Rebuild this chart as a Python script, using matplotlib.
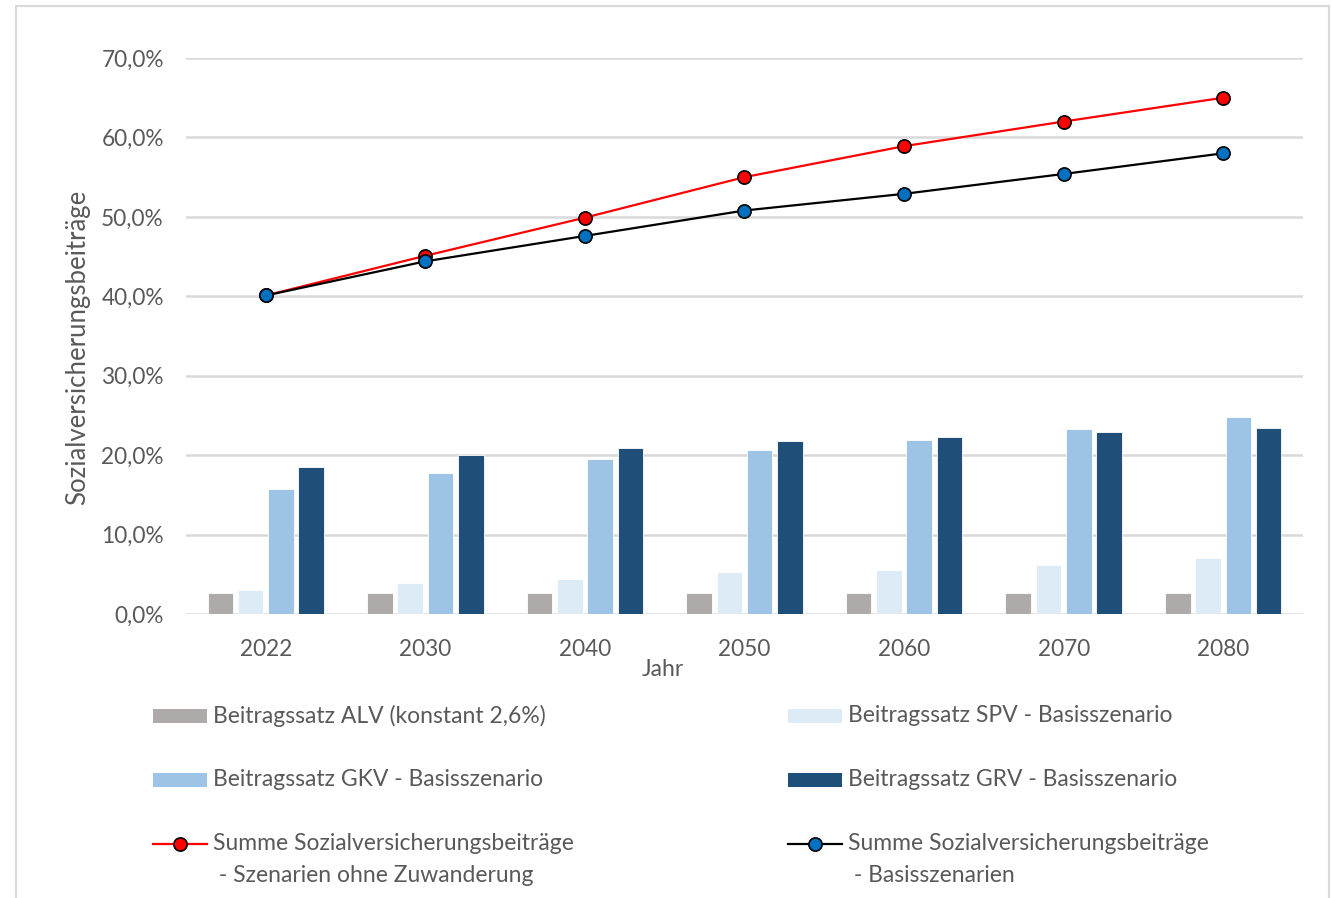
import matplotlib
matplotlib.use("Agg")
import matplotlib.pyplot as plt
import numpy as np
from matplotlib.lines import Line2D
from matplotlib.patches import Rectangle
from matplotlib.ticker import FuncFormatter, MultipleLocator

plt.rcParams['font.family'] = ['Lato', 'DejaVu Sans']

years = ["2022", "2030", "2040", "2050", "2060", "2070", "2080"]
alv = [2.6, 2.6, 2.6, 2.6, 2.6, 2.6, 2.6]
spv = [3.0, 3.9, 4.4, 5.3, 5.6, 6.2, 7.05]
gkv = [15.8, 17.75, 19.5, 20.7, 21.95, 23.3, 24.8]
grv = [18.5, 20.0, 20.9, 21.8, 22.3, 22.9, 23.4]
sum_ohne = [40.1, 45.1, 49.9, 55.0, 58.9, 62.0, 65.0]
sum_basis = [40.1, 44.4, 47.6, 50.8, 52.9, 55.4, 58.0]

labels = [
    "Beitragssatz ALV (konstant 2,6%)",
    "Beitragssatz SPV - Basisszenario",
    "Beitragssatz GKV - Basisszenario",
    "Beitragssatz GRV - Basisszenario",
    "Summe Sozialversicherungsbeiträge\n - Szenarien ohne Zuwanderung",
    "Summe Sozialversicherungsbeiträge\n - Basisszenarien",
]
bar_colors = ["#AEAAAA", "#DDEBF7", "#9DC3E6", "#1F4E79"]
text_color = "#595959"
grid_color = "#D9D9D9"

W, H = 1332, 898
fig = plt.figure(figsize=(W / 100, H / 100), dpi=100)
ax = fig.add_axes([186 / W, 1 - 614 / H, (1303 - 186) / W, (614 - 58) / H])

x = np.arange(len(years))
step = 0.19
bw = 0.16
for i, (vals, c) in enumerate(zip([alv, spv, gkv, grv], bar_colors)):
    ax.bar(x + (i - 1.5) * step, vals, width=bw, color=c, edgecolor="white",
           linewidth=0.6, zorder=2)

ax.plot(x, sum_ohne, color="#FF0000", lw=1.6, marker="o", ms=9.5,
        mfc="#FF0000", mec="black", mew=1.2, zorder=4)
ax.plot(x, sum_basis, color="black", lw=1.6, marker="o", ms=9.5,
        mfc="#0070C0", mec="black", mew=1.2, zorder=5)

ax.set_xlim(-0.5, len(years) - 0.5)
ax.set_ylim(0, 70)
ax.yaxis.set_major_locator(MultipleLocator(10))
ax.yaxis.set_major_formatter(FuncFormatter(lambda v, p: f"{v:.1f}%".replace(".", ",")))
ax.set_xticks(x)
ax.set_xticklabels(years)
ax.grid(axis="y", color=grid_color, lw=1.8, zorder=0)
ax.set_axisbelow(True)
for s in ax.spines.values():
    s.set_visible(False)
ax.tick_params(axis="both", length=0, labelsize=16.3, labelcolor=text_color)
ax.tick_params(axis="y", pad=16)
ax.tick_params(axis="x", pad=18)

fig.text(78 / W, 1 - 347 / H, "Sozialversicherungsbeiträge", rotation=90,
         ha="center", va="center", fontsize=18.5, color=text_color)
fig.text(663 / W, 1 - 670 / H, "Jahr", ha="center", va="center",
         fontsize=16.5, color=text_color)

# legend (manual, figure coordinates)
def fx(px):
    return px / W

def fy(py):
    return 1 - py / H

cols = [153, 788]
rows = [716, 780, 844]
entries = [(0, 0), (1, 0), (0, 1), (1, 1), (0, 2), (1, 2)]
for k, (ci, ri) in enumerate(entries):
    hx = cols[ci]
    yy = rows[ri]
    if k < 4:
        fig.patches.append(Rectangle((fx(hx), fy(yy + 7)), fx(54), 14 / H,
                                     transform=fig.transFigure,
                                     facecolor=bar_colors[k], edgecolor="none"))
    else:
        mfc = "#FF0000" if k == 4 else "#0070C0"
        lc = "#FF0000" if k == 4 else "black"
        fig.lines.append(Line2D([fx(hx), fx(hx + 54)], [fy(yy), fy(yy)],
                                transform=fig.transFigure, color=lc, lw=1.6))
        fig.lines.append(Line2D([fx(hx + 27)], [fy(yy)], transform=fig.transFigure,
                                marker="o", ms=9.5, mfc=mfc, mec="black", mew=1.2))
    lines = labels[k].split("\n")
    for j, ln in enumerate(lines):
        fig.text(fx(hx + 60), fy(yy + 31 * j), ln, ha="left", va="center",
                 fontsize=16.5, color=text_color)

# outer border
fig.patches.append(Rectangle((16 / W, -0.02), (1329 - 16) / W, 1 - 6 / H + 0.02,
                             transform=fig.transFigure, facecolor="none",
                             edgecolor=grid_color, lw=1.5))

fig.savefig("out.png", dpi=100)
